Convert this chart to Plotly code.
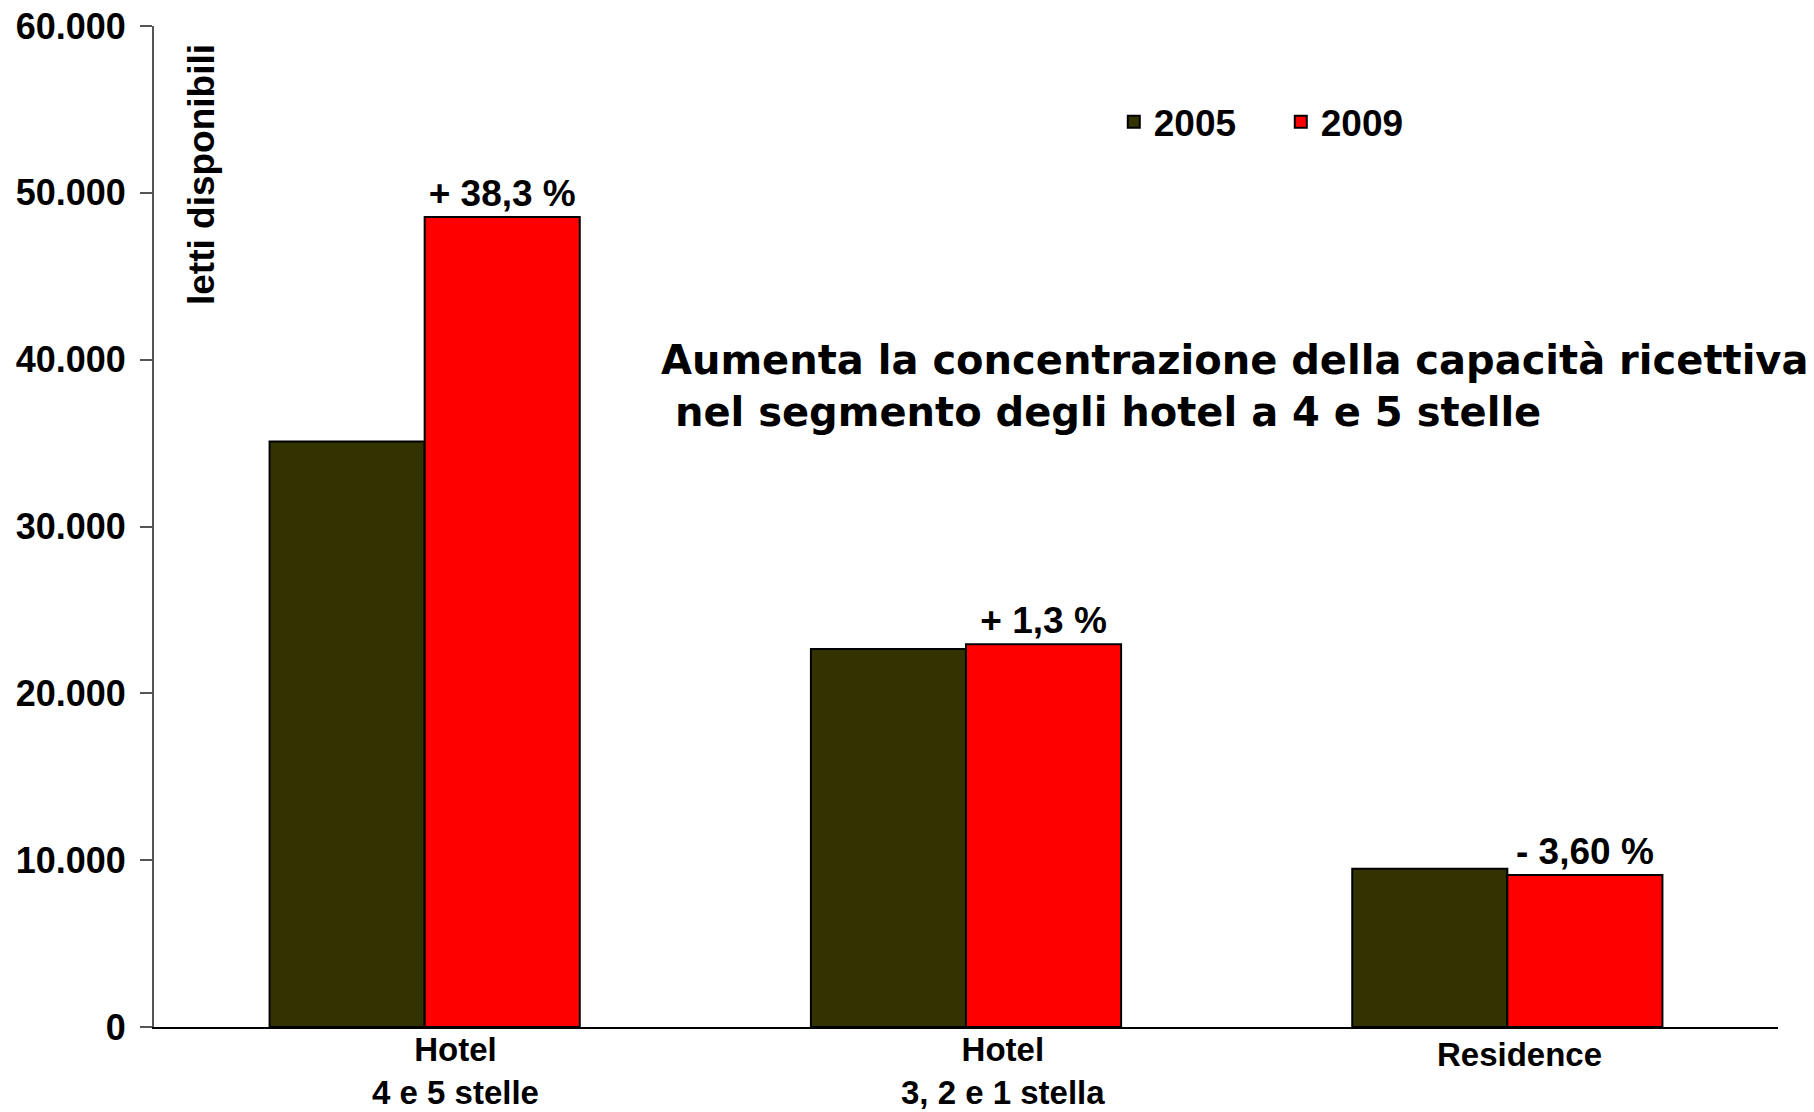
import plotly.graph_objects as go

categories = ["Hotel<br>4 e 5 stelle", "Hotel<br>3, 2 e 1 stella", "Residence"]
series_names = ["2005", "2009"]
values_2005 = [35100, 22650, 9480]
values_2009 = [48550, 22940, 9110]
pct_labels_2009 = ["+ 38,3 %", "+ 1,3 %", "- 3,60 %"]
y_ticks = [0, 10000, 20000, 30000, 40000, 50000, 60000]
colors = {"2005": "#333300", "2009": "#FF0000"}

# label placement offsets (px) of the category captions, as in the original slide
label_xshift = [31, 37, 12]
label_yshift = [-2, -2, -7]

FONT = "Liberation Sans, Arial, sans-serif"

fig = go.Figure()
fig.add_trace(go.Bar(
    x=categories, y=values_2005, name=series_names[0],
    marker=dict(color=colors["2005"], line=dict(color="#000000", width=2)),
))
fig.add_trace(go.Bar(
    x=categories, y=values_2009, name=series_names[1],
    marker=dict(color=colors["2009"], line=dict(color="#000000", width=2)),
    text=pct_labels_2009, textposition="outside",
    textfont=dict(family=FONT, size=37, color="#000000", weight="bold"),
    cliponaxis=False,
))

# category captions
for cat, dx, dy in zip(categories, label_xshift, label_yshift):
    fig.add_annotation(
        text=cat, xref="x", yref="paper", x=cat, y=0,
        xanchor="center", yanchor="top", xshift=dx, yshift=dy,
        showarrow=False, align="center",
        font=dict(family=FONT, size=33, color="#000000", weight="bold"),
    )

fig.add_annotation(
    text="Aumenta la concentrazione della capacità ricettiva<br>\u00a0nel segmento degli hotel a 4 e 5 stelle",
    xref="paper", yref="paper", x=0.311, y=0.640,
    xanchor="left", yanchor="middle", align="left", showarrow=False,
    font=dict(family="DejaVu Sans", size=40, color="#000000", weight="bold"),
)
fig.add_annotation(
    text="<b>letti disponibili</b>", textangle=-90,
    xref="paper", yref="paper", x=(202 - 154) / 1624, y=(1027 - 175) / 1001,
    xanchor="center", yanchor="middle", showarrow=False,
    font=dict(family=FONT, size=37, color="#000000"),
)

fig.update_layout(
    width=1814, height=1112,
    margin=dict(l=154, r=36, t=26, b=85),
    paper_bgcolor="white", plot_bgcolor="white",
    separators=",.",
    barmode="group", bargap=0.427, bargroupgap=0,
    showlegend=True,
    legend=dict(
        orientation="h", x=0.591, y=0.904, xanchor="left", yanchor="middle",
        font=dict(family=FONT, size=37, color="#000000", weight="bold"),
        bgcolor="rgba(0,0,0,0)", itemwidth=30, entrywidth=122,
    ),
    font=dict(family=FONT, color="#000000"),
)
fig.update_xaxes(
    showline=True, linecolor="#000000", linewidth=2,
    ticks="", showgrid=False, automargin=False,
    showticklabels=False,
)
fig.update_yaxes(
    range=[0, 60000], tickvals=y_ticks, tickformat=",d",
    showline=True, linecolor="#555555", linewidth=2,
    ticks="outside", ticklen=12, tickcolor="#555555", tickwidth=2,
    showgrid=False, zeroline=False, automargin=False,
    ticklabelstandoff=7, ticklabeloverflow="allow",
    tickfont=dict(family=FONT, size=36, color="#000000", weight="bold"),
)

fig.write_html(
    "out.html",
    config={"displayModeBar": False},
    post_script="document.body.style.margin='0';document.body.style.overflow='hidden';",
)
